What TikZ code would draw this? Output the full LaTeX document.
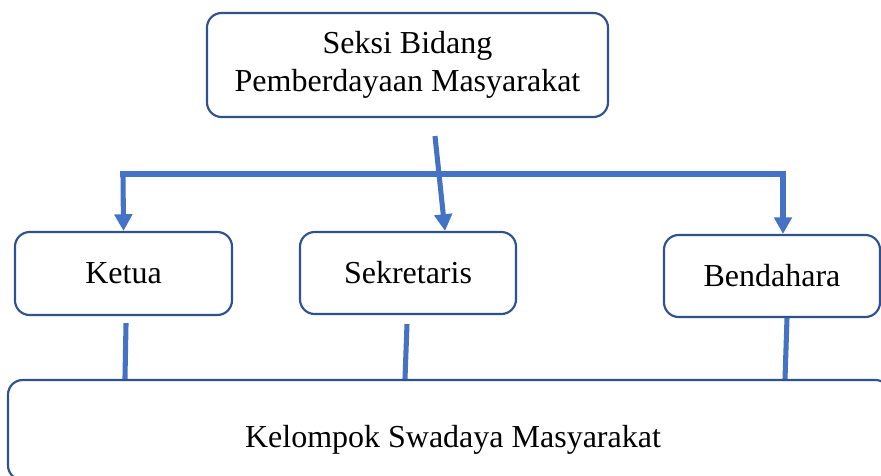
\documentclass[tikz,border=0pt]{standalone}
\usepackage{fontspec}
\setmainfont{Liberation Serif}
\usetikzlibrary{arrows.meta}
\definecolor{linkblue}{HTML}{4472C4}
\definecolor{boxblue}{HTML}{2F528F}
\begin{document}
\begin{tikzpicture}[x=0.75pt,y=-0.75pt,
		unit/.style={draw=boxblue,line width=1.6pt,rounded corners=11pt,fill=white,align=center,inner sep=0pt,font=\fontsize{24}{28.5}\selectfont},
		link/.style={draw=linkblue,line width=3.8pt},
		linkarrow/.style={link,-{Triangle[width=13pt,length=12.5pt]}}]
	\useasboundingbox (0,0) rectangle (881,475);
	% boxes
	\node[unit,minimum width=300.75pt,minimum height=78pt] (seksi) at (407.5,65) {Seksi Bidang\\Pemberdayaan Masyarakat};
	\node[unit,minimum width=162.75pt,minimum height=62.25pt] (ketua) at (123.5,273.5) {Ketua};
	\node[unit,minimum width=162pt,minimum height=61.5pt] (sekretaris) at (408,273) {Sekretaris};
	\node[unit,minimum width=162pt,minimum height=61.5pt] (bendahara) at (772,276) {Bendahara};
	\node[unit,minimum width=661.5pt,minimum height=75pt,text height=31.5pt,text depth=6pt] (kelompok) at (449,430) {\hspace*{6pt}Kelompok Swadaya Masyarakat};
	% bar
	\coordinate (barL) at (123,174);
	\coordinate (barR) at (783,174);
	\draw[link,line cap=rect] (barL) -- (barR);
	\draw[linkarrow] (barL) -- (ketua.north);
	\draw[linkarrow] (barR) -- (bendahara.north -| barR);
	\draw[linkarrow] ([xshift=20.6pt,yshift=-13.5pt]seksi.south) -- ([xshift=27.75pt]sekretaris.north);
	% down to kelompok
	\draw[link] ([xshift=1.9pt,yshift=-5.25pt]ketua.south) -- ([xshift=1.1pt]kelompok.north -| ketua.south);
	\draw[link] ([xshift=-0.75pt,yshift=-6.75pt]sekretaris.south) -- ([xshift=-2.25pt]kelompok.north -| sekretaris.south);
	\draw[link] ([xshift=11.25pt]bendahara.south) -- ([xshift=9.75pt]kelompok.north -| bendahara.south);
\end{tikzpicture}
\end{document}
